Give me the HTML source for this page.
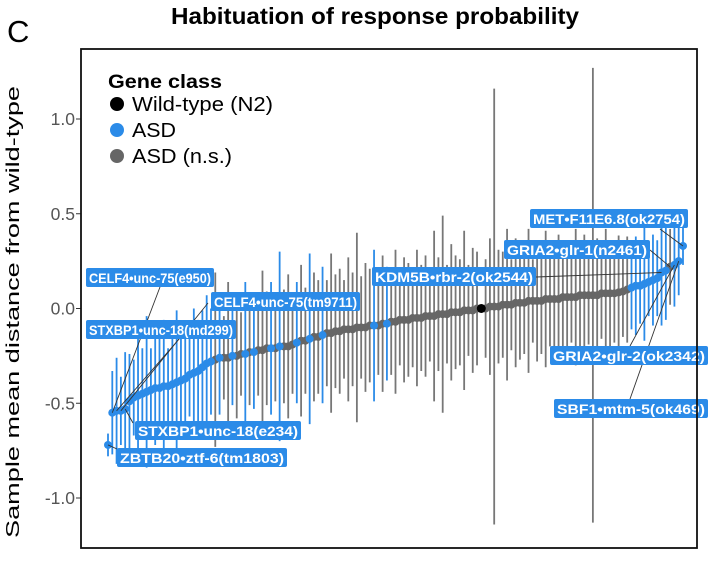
<!DOCTYPE html>
<html><head><meta charset="utf-8"><style>
body{margin:0;background:#fff;}
svg text{font-family:"Liberation Sans",Arial,sans-serif;}
</style></head><body>
<svg id="chart" width="722" height="559" viewBox="0 0 722 559" xmlns="http://www.w3.org/2000/svg">
<text x="7" y="42" font-size="31">C</text>
<text x="375" y="24" font-size="23" font-weight="bold" text-anchor="middle" textLength="408" lengthAdjust="spacingAndGlyphs">Habituation of response probability</text>
<text transform="translate(19,312) rotate(-90)" font-size="18" text-anchor="middle" textLength="452" lengthAdjust="spacingAndGlyphs">Sample mean distance from wild-type</text>
<g id="axis"></g>
<g id="bars"></g>
<g id="pts"></g>
<g id="labels"></g>
<rect x="81" y="49" width="616" height="499" fill="none" stroke="#111" stroke-width="1.8"/>
<g>
<text x="108" y="88" font-size="19" font-weight="bold" textLength="114" lengthAdjust="spacingAndGlyphs">Gene class</text>
<circle cx="117" cy="104" r="7" fill="#000"/>
<text x="132" y="111" font-size="20" textLength="141" lengthAdjust="spacingAndGlyphs">Wild-type (N2)</text>
<circle cx="117" cy="130" r="7" fill="#2b8be8"/>
<text x="132" y="137" font-size="20" textLength="44" lengthAdjust="spacingAndGlyphs">ASD</text>
<circle cx="117" cy="156" r="7" fill="#666"/>
<text x="132" y="163" font-size="20" textLength="100" lengthAdjust="spacingAndGlyphs">ASD (n.s.)</text>
</g>
</svg>
<script>
const values=[-0.72,
-0.55,-0.54,-0.54,-0.53,-0.49,-0.47,-0.46,-0.45,-0.44,
-0.43,-0.42,-0.42,-0.41,-0.41,-0.40,-0.39,-0.38,-0.37,-0.35,
-0.34,-0.33,-0.31,-0.29,-0.28,-0.27,-0.26,-0.26,-0.26,-0.25,
-0.25,-0.24,-0.24,-0.23,-0.23,-0.22,-0.22,-0.21,-0.21,-0.21,
-0.20,-0.20,-0.20,-0.19,-0.18,-0.17,-0.17,-0.16,-0.15,-0.15,
-0.14,-0.13,-0.13,-0.12,-0.12,-0.11,-0.11,-0.11,-0.10,-0.10,
-0.10,-0.09,-0.09,-0.09,-0.08,-0.08,-0.07,-0.07,-0.06,-0.06,
-0.06,-0.05,-0.05,-0.05,-0.04,-0.04,-0.04,-0.03,-0.03,-0.03,
-0.02,-0.02,-0.02,-0.01,-0.01,-0.01,0.00,0.00,0.00,0.01,
0.01,0.01,0.02,0.02,0.02,0.03,0.03,0.03,0.04,0.04,
0.04,0.04,0.05,0.05,0.05,0.05,0.06,0.06,0.06,0.06,
0.07,0.07,0.07,0.07,0.07,0.08,0.08,0.08,0.08,0.085,
0.09,0.10,0.11,0.12,0.12,0.13,0.14,0.15,0.16,0.19,
0.20,0.22,0.23,0.25,0.33];
const errors=[0.06,
0.22,0.28,0.18,0.30,0.25,0.20,0.33,0.24,0.40,
0.22,0.30,0.26,0.35,0.20,0.28,0.38,0.24,0.30,0.22,
0.34,0.27,0.30,0.36,0.28,0.46,0.30,0.22,0.40,0.26,
0.33,0.22,0.38,0.28,0.30,0.24,0.42,0.30,0.35,0.28,
0.50,0.30,0.38,0.26,0.32,0.40,0.28,0.45,0.34,0.30,
0.36,0.28,0.42,0.30,0.33,0.26,0.38,0.30,0.50,0.27,
0.34,0.30,0.40,0.26,0.36,0.30,0.28,0.38,0.24,0.33,
0.30,0.26,0.36,0.28,0.32,0.24,0.45,0.30,0.52,0.26,
0.36,0.30,0.28,0.42,0.24,0.33,0.30,0.00,0.26,0.36,
1.15,0.30,0.28,0.40,0.24,0.34,0.30,0.27,0.38,0.22,
0.32,0.28,0.36,0.25,0.30,0.34,0.26,0.30,0.24,0.36,
0.28,0.32,0.26,1.20,0.30,0.24,0.34,0.28,0.26,0.30,
0.24,0.28,0.22,0.26,0.20,0.30,0.18,0.24,0.20,0.28,
0.26,0.20,0.22,0.18,0.10];
const classes="BBBBBBBBBBBBBBBBBBBBBBBBBGBGGBGGBGBGGGBGBGGGBGGBGGBGGGGGGGGGGGBGGBGGGGGGGGGGGGGGGGGGGGGWGGGGGGGGGGGGGGGGGGGGGGGGGGGGGGGGGGBBBBBBBBBGBBBBB";
const yTicks=[1.0,0.5,0.0,-0.5,-1.0];
const yTickLabels=["1.0","0.5","0.0","-0.5","-1.0"];
const labelText=["CELF4•unc-75(e950)","CELF4•unc-75(tm9711)","STXBP1•unc-18(md299)","STXBP1•unc-18(e234)","ZBTB20•ztf-6(tm1803)","KDM5B•rbr-2(ok2544)","MET•F11E6.8(ok2754)","GRIA2•glr-1(n2461)","GRIA2•glr-2(ok2342)","SBF1•mtm-5(ok469)"];
const labelIndex=[1,3,2,4,0,129,134,131,132,133];

const NS="http://www.w3.org/2000/svg";
const y=v=>308.5-v*189.5;
const x=i=>108+i*(575/(values.length-1));
const col={B:"#2b8be8",G:"#666",W:"#000"};
function mk(tag,attrs,parent){const e=document.createElementNS(NS,tag);for(const k in attrs)e.setAttribute(k,attrs[k]);parent.appendChild(e);return e;}
const ax=document.getElementById('axis');
yTicks.forEach((t,k)=>{
 const l=mk('line',{x1:76,x2:81,y1:y(t),y2:y(t),stroke:'#333','stroke-width':1},ax);
 
 
 const tx=mk('text',{x:75,y:y(t)+6,'font-size':17.5,fill:'#555','text-anchor':'end'},ax);
 tx.textContent=yTickLabels[k];
 
 
});
const bars=document.getElementById('bars'),pts=document.getElementById('pts');
const order=[...values.keys()].sort((a,b)=>(classes[a]==='G'?0:1)-(classes[b]==='G'?0:1));
order.forEach(i=>{
 const c=col[classes[i]];
 const b=mk('line',{x1:x(i),x2:x(i),y1:y(values[i]+errors[i]),y2:y(values[i]-errors[i]),stroke:c==='#666'?'#777':c,'stroke-width':1.8},bars);
 
 
});
order.forEach(i=>{
 const c=col[classes[i]];
 const p=mk('circle',{cx:x(i),cy:y(values[i]),r:classes[i]==='W'?4.5:4,fill:c},pts);
 
 
});
const boxes=[[86,268,160,287,128],[211,292,208,303,149],[86,320,180,338,150],[135,421,133,423,166],[117,448,117,449,170],[372,267,536,277,164],[530,209,660,229,158],[504,240,650,250,146],[550,346,630,346,158],[554,399,630,399,154]];
const lg=document.getElementById('labels');
labelText.forEach((t,k)=>{
 const [bx,by,lx,ly]=boxes[k];
 const i=labelIndex[k];
 const ln=mk('line',{x1:lx,y1:ly,x2:x(i),y2:y(values[i]),stroke:'#333','stroke-width':0.9},lg);
 
 
});
labelText.forEach((t,k)=>{
 const [bx,by,,,w]=boxes[k];
 const g=mk('g',{},lg);
 
 
 mk('rect',{x:bx,y:by,width:w,height:19,rx:2,fill:'#2b8be8'},g);
 const tx=mk('text',{x:bx+3,y:by+15,'font-size':14,'font-weight':'bold',fill:'#fff',textLength:w-6,lengthAdjust:'spacingAndGlyphs'},g);
 tx.textContent=t;
});
</script>
</body></html>
